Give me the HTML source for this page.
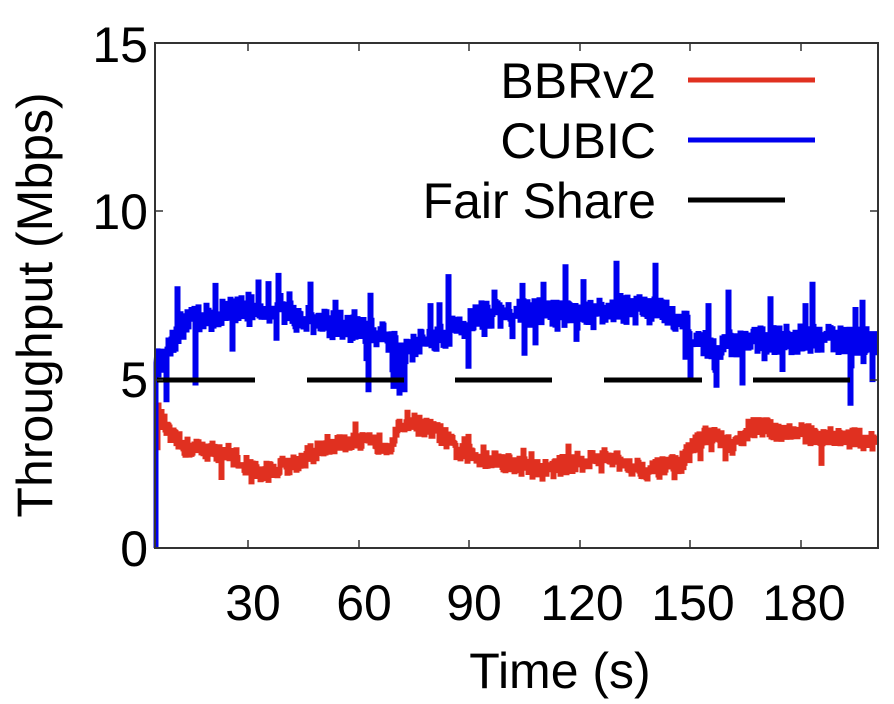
<!DOCTYPE html>
<html><head><meta charset="utf-8"><style>
html,body{margin:0;padding:0;background:#fff;}
svg{display:block;font-family:"Liberation Sans",sans-serif;}
</style></head><body>
<svg id="s" width="894" height="704" viewBox="0 0 894 704" xmlns="http://www.w3.org/2000/svg">
<rect width="894" height="704" fill="#fff"/>
<g id="data"></g>
<line x1="157" y1="380" x2="255" y2="380" stroke="#000" stroke-width="5"/>
<line x1="307" y1="380" x2="404" y2="380" stroke="#000" stroke-width="5"/>
<line x1="455" y1="380" x2="552" y2="380" stroke="#000" stroke-width="5"/>
<line x1="604" y1="380" x2="702" y2="380" stroke="#000" stroke-width="5"/>
<line x1="753" y1="380" x2="850" y2="380" stroke="#000" stroke-width="5"/>
<rect x="155" y="43" width="723" height="505" fill="none" stroke="#333" stroke-width="2"/>
<g stroke="#333" stroke-width="1.5">
<line x1="155" y1="211" x2="163" y2="211"/><line x1="155" y1="380" x2="163" y2="380"/>
<line x1="870" y1="211" x2="878" y2="211"/><line x1="870" y1="380" x2="878" y2="380"/>
<line x1="248" y1="548" x2="248" y2="540"/><line x1="359" y1="548" x2="359" y2="540"/>
<line x1="469" y1="548" x2="469" y2="540"/><line x1="580" y1="548" x2="580" y2="540"/>
<line x1="690" y1="548" x2="690" y2="540"/><line x1="801" y1="548" x2="801" y2="540"/>
<line x1="248" y1="43" x2="248" y2="51"/><line x1="359" y1="43" x2="359" y2="51"/>
<line x1="469" y1="43" x2="469" y2="51"/><line x1="580" y1="43" x2="580" y2="51"/>
<line x1="690" y1="43" x2="690" y2="51"/><line x1="801" y1="43" x2="801" y2="51"/>
</g>
<g font-size="50" fill="#000" text-anchor="end">
<text x="148" y="62">15</text>
<text x="148" y="229">10</text>
<text x="148" y="397">5</text>
<text x="148" y="566">0</text>
</g>
<g font-size="50" fill="#000" text-anchor="middle">
<text x="253" y="620">30</text>
<text x="364" y="620">60</text>
<text x="474" y="620">90</text>
<text x="582" y="620">120</text>
<text x="693" y="620">150</text>
<text x="804" y="620">180</text>
<text x="560" y="688">Time (s)</text>
<text transform="translate(52,305) rotate(-90)">Throughput (Mbps)</text>
</g>
<g font-size="50" fill="#000" text-anchor="end">
<text x="656" y="98">BBRv2</text>
<text x="656" y="158">CUBIC</text>
<text x="656" y="218">Fair Share</text>
</g>
<line x1="688" y1="80" x2="815" y2="80" stroke="#e03020" stroke-width="5"/>
<line x1="688" y1="140" x2="815" y2="140" stroke="#0000ee" stroke-width="5"/>
<line x1="688" y1="200" x2="785" y2="200" stroke="#000" stroke-width="5"/>
</svg>
<script>
(function(){
var seed=12345;function r(){seed=(seed*16807)%2147483647;return seed/2147483647;}
function interp(pts,x){for(var i=0;i<pts.length-1;i++){if(x>=pts[i][0]&&x<=pts[i+1][0]){var t=(x-pts[i][0])/(pts[i+1][0]-pts[i][0]);return pts[i][1]+t*(pts[i+1][1]-pts[i][1]);}}return pts[pts.length-1][1];}
var blue=[[157,5.5],[170,6.0],[180,6.6],[200,6.8],[250,7.2],[300,6.8],[350,6.5],[385,6.3],[400,5.8],[440,6.3],[480,6.9],[530,7.0],[580,6.9],[640,7.1],[685,6.8],[692,6.0],[720,6.0],[760,6.2],[830,6.2],[875,6.1]];
var red=[[158,4.0],[170,3.3],[185,3.0],[230,2.8],[260,2.2],[300,2.6],[330,3.1],[390,3.1],[405,3.8],[440,3.4],[460,2.8],[500,2.6],[540,2.3],[600,2.7],[650,2.3],[680,2.5],[700,3.3],[720,3.3],[732,2.9],[750,3.6],[800,3.4],[875,3.2]];
var dips={195:4.9,368:4.7,393:4.8,399:4.6,404:4.7,468:5.4,690:5.0,742:4.9,782:5.3,850:4.3,872:5.0};
var peaks={177:7.7,215:7.8,258:7.9,280:7.5,335:7.3,430:7.2,494:7.6,522:7.8,620:7.5,655:8.4,708:7.2,728:7.6,770:7.4,805:7.2,862:7.3};
function Y(v){return 548-v*33.67;}
function build(pts,spk,noise,up,dn,sp){var d="M156,548 L156,"+Y(pts[0][1]).toFixed(1);var last=null;
for(var x=157;x<=876;x+=1){var v=interp(pts,x)+(r()-0.5)*noise;var q=r();if(q<spk)v+=up*(0.5+r());else if(q<spk*1.8)v-=dn*(0.5+r());
if(sp){if(dips[x]!==undefined)v=dips[x];if(peaks[x]!==undefined)v=peaks[x];}
var y=Y(v).toFixed(1);d+=" L"+x+","+(last||y)+" L"+x+","+y;last=y;}return d;}
var g=document.getElementById("data");
var ns="http://www.w3.org/2000/svg";
var p1=document.createElementNS(ns,"path");p1.setAttribute("d",build(red,0.015,0.55,0.5,0.4,false));p1.setAttribute("fill","none");p1.setAttribute("stroke","#e03020");p1.setAttribute("stroke-width","5");g.appendChild(p1);
var p2=document.createElementNS(ns,"path");p2.setAttribute("d",build(blue,0.03,0.8,0.9,0.8,true));p2.setAttribute("fill","none");p2.setAttribute("stroke","#0000ee");p2.setAttribute("stroke-width","5");g.appendChild(p2);
})();
</script>
</body></html>
